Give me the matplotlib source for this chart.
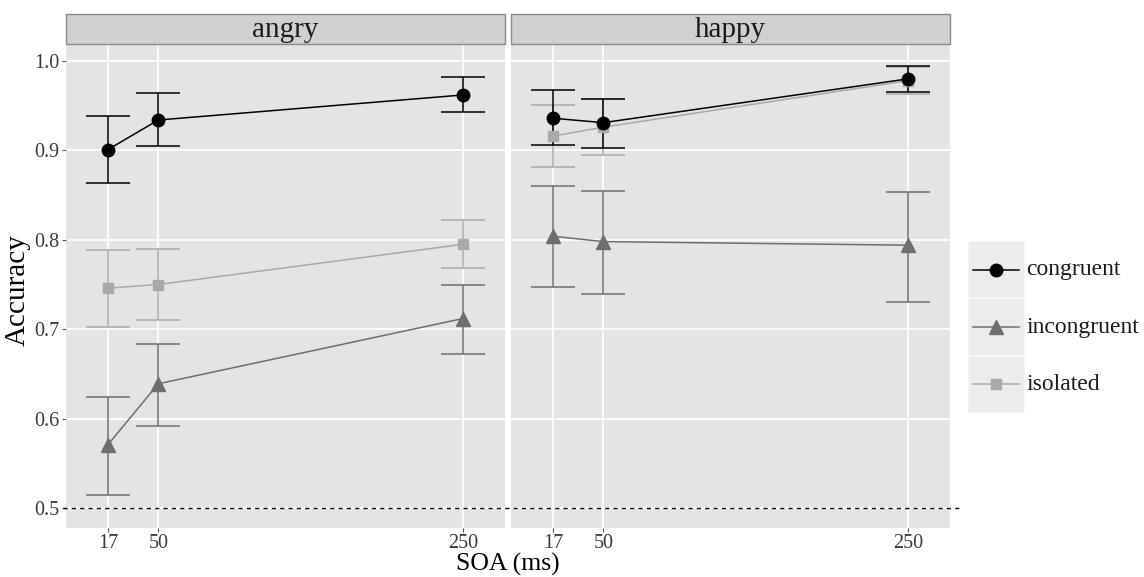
import numpy as np
from matplotlib import pyplot as plt, patches
from matplotlib.lines import Line2D

plt.rcParams['font.family'] = ['Liberation Serif', 'DejaVu Serif']

soa = [17, 50, 250]
emotions = ['angry', 'happy']
conditions = ['congruent', 'incongruent', 'isolated']

# mean accuracy, lower and upper CI per emotion / condition
mean = {
    'angry': {'congruent': [0.901, 0.934, 0.962],
              'incongruent': [0.571, 0.639, 0.712],
              'isolated': [0.746, 0.750, 0.795]},
    'happy': {'congruent': [0.936, 0.931, 0.980],
              'incongruent': [0.804, 0.798, 0.794],
              'isolated': [0.916, 0.926, 0.978]},
}
lower = {
    'angry': {'congruent': [0.864, 0.905, 0.943],
              'incongruent': [0.515, 0.592, 0.672],
              'isolated': [0.703, 0.710, 0.768]},
    'happy': {'congruent': [0.906, 0.903, 0.965],
              'incongruent': [0.747, 0.739, 0.731],
              'isolated': [0.881, 0.895, 0.963]},
}
upper = {
    'angry': {'congruent': [0.939, 0.964, 0.982],
              'incongruent': [0.624, 0.684, 0.750],
              'isolated': [0.789, 0.790, 0.822]},
    'happy': {'congruent': [0.967, 0.958, 0.994],
              'incongruent': [0.860, 0.855, 0.854],
              'isolated': [0.951, 0.957, 0.993]},
}

colors = {'congruent': '#000000', 'incongruent': '#6e6e6e', 'isolated': '#a9a9a9'}
markers = {'congruent': 'o', 'incongruent': '^', 'isolated': 's'}
msizes = {'congruent': 9, 'incongruent': 9.5, 'isolated': 7.5}
# draw order: isolated under congruent
order = ['isolated', 'incongruent', 'congruent']

W, H = 1144, 577
fig = plt.figure(figsize=(W / 100, H / 100), dpi=100)


def px(x0, y0, x1, y1):
    return [x0 / W, 1 - y1 / H, (x1 - x0) / W, (y1 - y0) / H]


panels = [(66, 505), (511, 950)]
for i, emo in enumerate(emotions):
    x0, x1 = panels[i]
    ax = fig.add_axes(px(x0, 44, x1, 528))
    ax.set_facecolor('#e4e4e4')
    for s in ax.spines.values():
        s.set_visible(False)
    ax.set_xlim(-10.6, 277.6)
    ax.set_ylim(0.4777, 1.019)
    ax.set_xticks(soa)
    ax.set_yticks([0.5, 0.6, 0.7, 0.8, 0.9, 1.0])
    ax.grid(True, color='white', linewidth=1.2)
    ax.set_axisbelow(True)
    ax.tick_params(colors='#555555', labelcolor='#3a3a3a', labelsize=14.5, length=3,
                   width=0.8, pad=2)
    ax.tick_params(axis='x', pad=1)
    if i == 1:
        ax.tick_params(axis='y', left=False, labelleft=False)
    else:
        ax.set_yticklabels(['0.5', '0.6', '0.7', '0.8', '0.9', '1.0'])

    for c in order:
        m = np.array(mean[emo][c])
        lo = np.array(lower[emo][c])
        hi = np.array(upper[emo][c])
        ax.errorbar(soa, m, yerr=[m - lo, hi - m], fmt='none', ecolor=colors[c],
                    elinewidth=1.1, capsize=16, capthick=1.1, zorder=2)
        ax.plot(soa, m, color=colors[c], linewidth=1.1, marker=markers[c],
                markersize=msizes[c], zorder=3)

    # facet strip
    strip = patches.Rectangle((0, 1.0), 1, 30 / 484, transform=ax.transAxes,
                              facecolor='#d0d0d0', edgecolor='#8a8a8a', linewidth=1,
                              clip_on=False)
    ax.add_patch(strip)
    ax.text(0.5, 1.0 + 14 / 484, emo, transform=ax.transAxes, ha='center',
            va='center', fontsize=21, color='#1a1a1a')

# chance line at 0.5 runs across both panels
y05 = 1 - (528 - (0.5 - 0.4777) / (1.019 - 0.4777) * 484) / H
fig.add_artist(Line2D([63 / W, 960 / W], [y05, y05], color='black',
                      linestyle=(0, (3, 3)), linewidth=1.0))

fig.text(18 / W, 1 - 290 / H, 'Accuracy', rotation=90, ha='center', va='center',
         fontsize=21)
fig.text(508 / W, 1 / H, 'SOA (ms)', ha='center', va='bottom', fontsize=18.5)

# legend
lax = fig.add_axes(px(968, 241, 1025, 413))
lax.set_xlim(0, 1)
lax.set_ylim(0, 3)
lax.axis('off')
for k, c in enumerate(conditions):
    yb = 2 - k
    lax.add_patch(patches.Rectangle((0, yb), 1, 1, facecolor='#ececec',
                                    edgecolor='#f6f6f6', linewidth=1.5))
    lax.plot([0.09, 0.89], [yb + 0.5, yb + 0.5], color=colors[c], linewidth=1.1)
    lax.plot([0.49], [yb + 0.5], marker=markers[c], markersize=msizes[c],
             color=colors[c])
    lax.text(1.02, yb + 0.5, c, ha='left', va='center', fontsize=17,
             color='#1a1a1a', clip_on=False)

fig.savefig('out.png', dpi=100)
